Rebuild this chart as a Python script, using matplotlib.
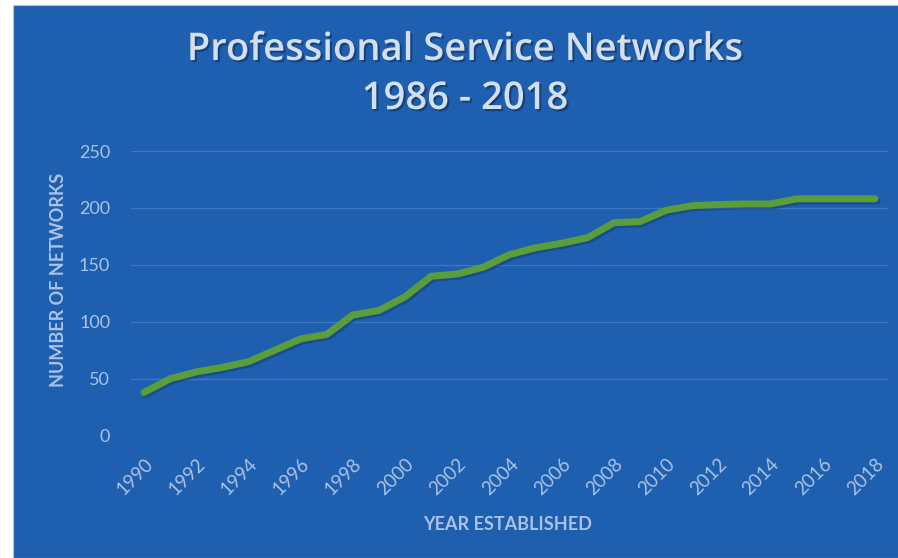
import matplotlib.pyplot as plt
import matplotlib.patheffects as pe
from matplotlib.patches import Rectangle

# datos
anios = list(range(1990, 2019))
redes = [38, 50, 56, 60, 65, 75, 85, 89, 106, 110, 122, 140, 142, 148, 159,
         165, 169, 174, 187, 188, 198, 202, 203, 203.5, 203.5, 208, 208, 208, 208]
ticks_y = [0, 50, 100, 150, 200, 250]
ticks_x = list(range(1990, 2019, 2))

FONDO = '#1F5FB0'
TEXTO = '#A9C3E6'

fig = plt.figure(figsize=(8.98, 5.58), dpi=100, facecolor='white')
fig.patches.append(Rectangle((13 / 898, 0), 1, (558 - 5) / 558, transform=fig.transFigure,
                             facecolor=FONDO, edgecolor='#B8C4D0', linewidth=0.8, zorder=-5))

ax = fig.add_axes([131 / 898, (558 - 435.7) / 558, 757 / 898, 284.7 / 558])
ax.set_facecolor('none')

ax.plot(anios, redes, color='#5A9E3C', linewidth=5, solid_joinstyle='miter', solid_capstyle='round',
        path_effects=[pe.SimpleLineShadow(offset=(1.5, -1.5), shadow_color='#123A70', alpha=0.5), pe.Normal()])

ax.set_xlim(1989.5, 2018.5)
ax.set_ylim(0, 250)
ax.set_yticks(ticks_y)
ax.set_xticks(ticks_x)
ax.grid(axis='y', color='#3C78C2', linewidth=1)
ax.set_axisbelow(True)
for s in ax.spines.values():
    s.set_visible(False)
ax.tick_params(length=0, colors=TEXTO)
ax.tick_params(axis='y', pad=15, labelsize=13)
ax.tick_params(axis='x', pad=14, labelsize=13.5)
for lab in ax.get_yticklabels():
    lab.set_family('Lato')
for lab in ax.get_xticklabels():
    lab.set_family('Lato')
    lab.set_rotation(45)
    lab.set_ha('right')
    lab.set_rotation_mode('anchor')

# titulos de ejes
fig.text(508 / 898, 1 - 525 / 558, 'YEAR ESTABLISHED', color=TEXTO, fontsize=13,
         fontweight='bold', family='Lato', ha='center', va='center')
fig.text(58 / 898, 1 - 280 / 558, 'NUMBER OF NETWORKS', color=TEXTO, fontsize=13,
         fontweight='bold', family='Lato', ha='center', va='center', rotation=90)

sombra = [pe.withSimplePatchShadow(offset=(1.5, -1.5), shadow_rgbFace='#0E2F5C', alpha=0.6)]
fig.text(465 / 898, 1 - 50 / 558, 'Professional Service Networks', color='#D4DFEE', fontsize=27.5,
         family='Open Sans', fontweight='semibold', ha='center', va='center', path_effects=sombra)
fig.text(465 / 898, 1 - 99 / 558, '1986 - 2018', color='#D4DFEE', fontsize=27.5,
         family='Open Sans', fontweight='semibold', ha='center', va='center', path_effects=sombra)

fig.savefig('out.png', dpi=100, facecolor=fig.get_facecolor())
